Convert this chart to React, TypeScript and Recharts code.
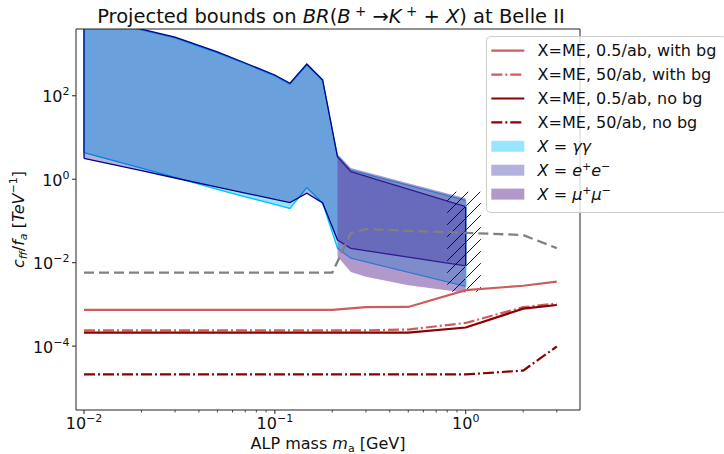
import React from 'react'
import { ComposedChart, Area, Line, XAxis, YAxis, ReferenceArea } from 'recharts'

const FONT = '"DejaVu Sans", sans-serif'
const W = 724
const H = 454
const PLOT = { left: 76, top: 29, right: 580, bottom: 410 }

const X_DOMAIN: [number, number] = [0.00908, 3.97]
const Y_DOMAIN: [number, number] = [Math.pow(10, -5.53), Math.pow(10, 3.6)]

const xMajor = [0.01, 0.1, 1]
const xMinor = [0.02, 0.03, 0.04, 0.05, 0.06, 0.07, 0.08, 0.09, 0.2, 0.3, 0.4, 0.5, 0.6, 0.7, 0.8, 0.9, 2, 3]
const yMajor = [1e-4, 1e-2, 1, 1e2]

// excluded bands (upper / lower edge)
const bandX = [0.01, 0.02, 0.03, 0.05, 0.07, 0.1, 0.12, 0.147, 0.178, 0.213, 0.25, 1.0]
const eeUpper = [9000, 3950, 2550, 1120, 610, 315, 200, 575, 240, 3.4, 1.52, 0.22]
const eeLower = [3.18, 1.6, 1.07, 0.65, 0.465, 0.33, 0.275, 0.46, 0.27, 0.035, 0.022, 0.0084]
const ggUpper = [8600, 3780, 2440, 1070, 585, 300, 190, 550, 228, 3.6, 1.65, 0.31]
const ggLower = [4.34, 1.84, 1.11, 0.57, 0.38, 0.25, 0.2, 0.63, 0.27, 0.022, 0.0128, 0.0027]

const mumuX = [0.213, 0.25, 0.3, 0.5, 1.0]
const mumuUpper = [4.0, 1.85, 1.49, 0.8, 0.35]
const mumuLower = [0.014, 0.006, 0.0046, 0.0029, 0.0019]

// missing-energy projections
const meX = [0.01, 0.2, 0.3, 0.5, 1, 2, 3]
const meBg05 = [0.00074, 0.00074, 0.00086, 0.00087, 0.0022, 0.0028, 0.0035]
const meBg50 = [0.00024, 0.00024, 0.00024, 0.00025, 0.00036, 0.00086, 0.00105]
const meNoBg05 = [0.00021, 0.00021, 0.00021, 0.00021, 0.00028, 0.00079, 0.00097]
const meNoBg50 = [2.1e-5, 2.1e-5, 2.1e-5, 2.1e-5, 2.1e-5, 2.6e-5, 9.8e-5]

// grey dashed curve
const dashX = [0.01, 0.2, 0.25, 0.3, 0.5, 1, 2, 3]
const dashY = [0.0058, 0.0058, 0.051, 0.064, 0.058, 0.052, 0.046, 0.0223]

// hatched box
const hatchX = [0.8, 1.2]
const hatchY = [0.002, 0.5]

const band = (xs: number[], lo: number[], hi: number[]) => xs.map((x, i) => ({ x, r: [lo[i], hi[i]] }))
const series = (xs: number[], ys: number[]) => xs.map((x, i) => ({ x, y: ys[i] }))
const edge = (x: number, lo: number, hi: number) => [{ x, y: lo }, { x, y: hi }]

const ggData = band(bandX, ggLower, ggUpper)
const eeData = band(bandX, eeLower, eeUpper)
const mumuData = band(mumuX, mumuLower, mumuUpper)

const LIGHT_RED = '#cd5c5c'
const DARK_RED = '#8b0000'
const DASHDOT = '11 3 2 3'

const fmtExp = (e: number) => (e < 0 ? '\u2212' + Math.abs(e) : String(e))

function XTick(props: any) {
  const { x, payload } = props
  const v = payload.value
  const major = xMajor.includes(v)
  const e = Math.round(Math.log10(v))
  return (
    <g>
      <line x1={x} x2={x} y1={PLOT.bottom} y2={PLOT.bottom + (major ? 4 : 2.5)} stroke="#222" strokeWidth={major ? 1 : 0.8} />
      {major && (
        <text x={x} y={PLOT.bottom + 19} textAnchor="middle" fontSize={16} fontFamily={FONT} fill="#111">
          10<tspan dy={-7} fontSize={11}>{fmtExp(e)}</tspan>
        </text>
      )}
    </g>
  )
}

function YTick(props: any) {
  const { y, payload } = props
  const e = Math.round(Math.log10(payload.value))
  return (
    <g>
      <line x1={PLOT.left - 4} x2={PLOT.left} y1={y} y2={y} stroke="#222" strokeWidth={1} />
      <text x={PLOT.left - 6.5} y={y + 6.5} textAnchor="end" fontSize={16} fontFamily={FONT} fill="#111">
        10<tspan dy={-7} fontSize={11}>{fmtExp(e)}</tspan>
      </text>
    </g>
  )
}

const legendLines = [
  { label: 'X=ME, 0.5/ab, with bg', color: LIGHT_RED, dash: undefined },
  { label: 'X=ME, 50/ab, with bg', color: LIGHT_RED, dash: DASHDOT },
  { label: 'X=ME, 0.5/ab, no bg', color: DARK_RED, dash: undefined },
  { label: 'X=ME, 50/ab, no bg', color: DARK_RED, dash: DASHDOT },
]

function Sup({ children }: { children: React.ReactNode }) {
  return <tspan dy={-6} fontSize={11}>{children}</tspan>
}

function LegendBox() {
  const rowY = (i: number) => 14.7 + i * 23.9
  const patch = (i: number, fill: string, op: number) => (
    <rect x={5.3} y={rowY(i) - 5.5} width={33} height={11} fill={fill} fillOpacity={op} />
  )
  return (
    <svg width={238} height={178} style={{ position: 'absolute', left: 486, top: 36 }}>
      <rect x={0.5} y={0.5} width={240} height={176} rx={4} fill="#fff" fillOpacity={0.8} stroke="#cccccc" />
      <g fontFamily={FONT} fontSize={16} fill="#111">
        {legendLines.map((l, i) => (
          <g key={l.label}>
            <line x1={5.3} x2={38.3} y1={rowY(i)} y2={rowY(i)} stroke={l.color} strokeWidth={2.2} strokeDasharray={l.dash} />
            <text x={51.6} y={rowY(i) + 5.5}>{l.label}</text>
          </g>
        ))}
        {patch(4, '#00bfff', 0.4)}
        <text x={51.6} y={rowY(4) + 5.5}>
          <tspan fontStyle="italic">X</tspan> = <tspan fontStyle="italic">γγ</tspan>
        </text>
        {patch(5, '#00008b', 0.3)}
        <text x={51.6} y={rowY(5) + 5.5}>
          <tspan fontStyle="italic">X</tspan> = <tspan fontStyle="italic">e</tspan>
          <Sup>+</Sup>
          <tspan dy={6} fontStyle="italic">e</tspan>
          <Sup>{'\u2212'}</Sup>
        </text>
        {patch(6, '#663399', 0.5)}
        <text x={51.6} y={rowY(6) + 5.5}>
          <tspan fontStyle="italic">X</tspan> = <tspan fontStyle="italic">μ</tspan>
          <Sup>+</Sup>
          <tspan dy={6} fontStyle="italic">μ</tspan>
          <Sup>{'\u2212'}</Sup>
        </text>
      </g>
    </svg>
  )
}

function Titles() {
  return (
    <svg width={W} height={H} style={{ position: 'absolute', left: 0, top: 0, pointerEvents: 'none' }}>
      <g fontFamily={FONT} fill="#111">
        <text x={331} y={22.7} textAnchor="middle" fontSize={19.5}>
          Projected bounds on <tspan fontStyle="italic">BR</tspan>(<tspan fontStyle="italic">B</tspan>
          <tspan dy={-7} fontSize={13.5}> +</tspan>
          <tspan dy={7}> →</tspan><tspan fontStyle="italic">K</tspan>
          <tspan dy={-7} fontSize={13.5}> +</tspan>
          <tspan dy={7}> + </tspan><tspan fontStyle="italic">X</tspan>) at Belle II
        </text>
        <text x={328} y={449} textAnchor="middle" fontSize={16}>
          ALP mass <tspan fontStyle="italic">m</tspan>
          <tspan dy={3} fontSize={11}>a</tspan>
          <tspan dy={-3}> [GeV]</tspan>
        </text>
        <text transform="translate(24,219.5) rotate(-90)" textAnchor="middle" fontSize={16}>
          <tspan fontStyle="italic">c</tspan>
          <tspan dy={3} fontSize={11} fontStyle="italic">ff</tspan>
          <tspan dy={-3}>/</tspan><tspan fontStyle="italic">f</tspan>
          <tspan dy={3} fontSize={11} fontStyle="italic">a</tspan>
          <tspan dy={-3}> [</tspan><tspan fontStyle="italic">TeV</tspan>
          <tspan dy={-7} fontSize={11}>{'\u2212'}1</tspan>
          <tspan dy={7}>]</tspan>
        </text>
      </g>
    </svg>
  )
}

export default function App() {
  return (
    <div style={{ position: 'absolute', left: 0, top: 0, width: W, height: H, background: '#fff', fontFamily: FONT }}>
      <svg width={0} height={0} style={{ position: 'absolute' }}>
        <defs>
          <pattern id="hatch" patternUnits="userSpaceOnUse" width={12} height={12}>
            <path d="M-3,3 L3,-3 M0,12 L12,0 M9,15 L15,9" stroke="#000" strokeWidth={0.9} />
          </pattern>
        </defs>
      </svg>
      <ComposedChart width={W} height={H} margin={{ top: PLOT.top, right: W - PLOT.right, bottom: 0, left: 0 }}>
        <XAxis
          dataKey="x"
          type="number"
          scale="log"
          domain={X_DOMAIN}
          allowDataOverflow
          ticks={[...xMajor, ...xMinor]}
          interval={0}
          tick={(p: any) => <XTick {...p} />}
          tickLine={false}
          axisLine={false}
          height={H - PLOT.bottom}
        />
        <YAxis
          type="number"
          scale="log"
          domain={Y_DOMAIN}
          allowDataOverflow
          ticks={yMajor}
          interval={0}
          tick={(p: any) => <YTick {...p} />}
          tickLine={false}
          axisLine={false}
          width={PLOT.left}
        />

        <Area data={ggData} dataKey="r" type="linear" fill="#00bfff" fillOpacity={0.4} stroke="#00bfff" strokeWidth={1.3} dot={false} activeDot={false} isAnimationActive={false} />
        <Line data={edge(bandX[0], ggLower[0], ggUpper[0])} dataKey="y" stroke="#00bfff" strokeWidth={1.3} dot={false} activeDot={false} isAnimationActive={false} />
        <Line data={edge(1, ggLower[ggLower.length - 1], ggUpper[ggUpper.length - 1])} dataKey="y" stroke="#00bfff" strokeWidth={1.3} dot={false} activeDot={false} isAnimationActive={false} />

        <Area data={eeData} dataKey="r" type="linear" fill="#00008b" fillOpacity={0.3} stroke="#00008b" strokeWidth={1.3} dot={false} activeDot={false} isAnimationActive={false} />
        <Line data={edge(bandX[0], eeLower[0], eeUpper[0])} dataKey="y" stroke="#00008b" strokeWidth={1.3} dot={false} activeDot={false} isAnimationActive={false} />
        <Line data={edge(1, eeLower[eeLower.length - 1], eeUpper[eeUpper.length - 1])} dataKey="y" stroke="#00008b" strokeWidth={1.3} dot={false} activeDot={false} isAnimationActive={false} />

        <Area data={mumuData} dataKey="r" type="linear" fill="#663399" fillOpacity={0.5} stroke="none" dot={false} activeDot={false} isAnimationActive={false} />

        <ReferenceArea x1={hatchX[0]} x2={hatchX[1]} y1={hatchY[0]} y2={hatchY[1]} fill="url(#hatch)" fillOpacity={1} stroke="none" ifOverflow="visible" />

        <Line data={series(dashX, dashY)} dataKey="y" stroke="#808080" strokeWidth={2.3} strokeDasharray="10 5" dot={false} activeDot={false} isAnimationActive={false} />
        <Line data={series(meX, meBg05)} dataKey="y" stroke={LIGHT_RED} strokeWidth={2.2} dot={false} activeDot={false} isAnimationActive={false} />
        <Line data={series(meX, meBg50)} dataKey="y" stroke={LIGHT_RED} strokeWidth={2.2} strokeDasharray={DASHDOT} dot={false} activeDot={false} isAnimationActive={false} />
        <Line data={series(meX, meNoBg05)} dataKey="y" stroke={DARK_RED} strokeWidth={2.2} dot={false} activeDot={false} isAnimationActive={false} />
        <Line data={series(meX, meNoBg50)} dataKey="y" stroke={DARK_RED} strokeWidth={2.2} strokeDasharray={DASHDOT} dot={false} activeDot={false} isAnimationActive={false} />

        <ReferenceArea x1={X_DOMAIN[0]} x2={X_DOMAIN[1]} y1={Y_DOMAIN[0]} y2={Y_DOMAIN[1]} fill="none" stroke="#222" strokeWidth={1} ifOverflow="visible" />
      </ComposedChart>
      <Titles />
      <LegendBox />
    </div>
  )
}
